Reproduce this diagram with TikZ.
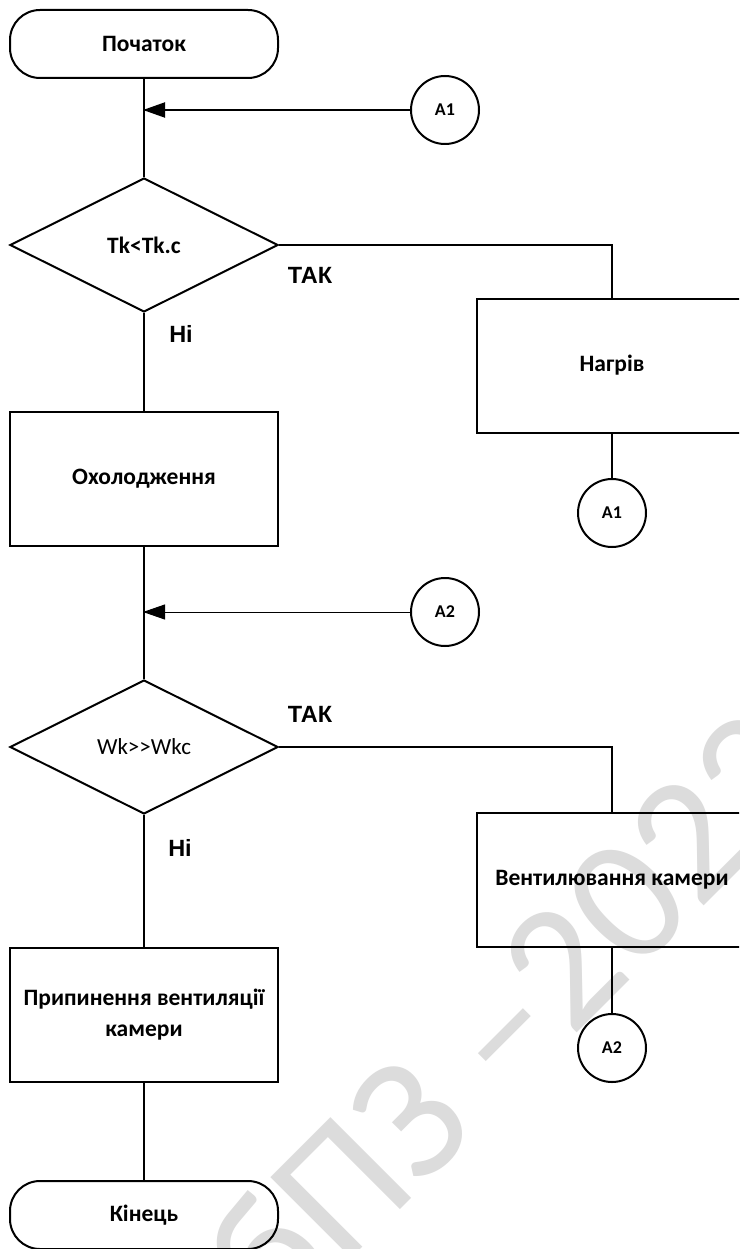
\documentclass[tikz,border=0pt]{standalone}
\usepackage{fontspec}
\setmainfont{Carlito}
\newfontfamily\labfont{Liberation Sans}
\usetikzlibrary{shapes.geometric,arrows.meta}
\definecolor{wm}{HTML}{DCDCDC}
\begin{document}
\begin{tikzpicture}[x=1pt,y=-1pt,
  every node/.style={font=\fontsize{23.5}{31}\selectfont\bfseries},
  base/.style={draw=black,line width=2pt,inner sep=0pt},
  term/.style={base,rectangle,rounded corners=30pt,minimum width=268pt,minimum height=68pt},
  proc/.style={base,rectangle,minimum width=268pt,minimum height=134pt,align=center},
  dec/.style={base,diamond,minimum width=268pt,minimum height=134pt},
  conn/.style={base,circle,minimum size=68pt,font=\fontsize{18}{20}\selectfont\bfseries},
  line/.style={line width=2pt},
  thin/.style={line width=1pt},
  tip/.style={-{Triangle[length=22pt,width=15pt]},shorten >=-1pt},
  yes/.style={font=\labfont\fontsize{23.5}{25}\selectfont\bfseries},
  water/.style={text=wm,font=\fontsize{178}{178}\selectfont\mdseries,rotate=45,anchor=base west,inner sep=0pt}]
\clip (0,0) rectangle (739,1249);
\fill[white] (0,0) rectangle (739,1249);
\node[water] (wmark) at (275,1335) {бПЗ –2023};

\node[term] (start) at (144,44) {Початок};
\node[dec] (d1) at (144,245) {Tk<Tk.c};
\node[proc] (cool) at (144,478.5) {Охолодження};
\node[proc,minimum width=270pt] (heat) at (612,365.5) {Нагрів};
\node[conn] (a1in) at (445,110) {A1};
\node[conn] (a1out) at (612,513) {A1};
\node[conn] (a2in) at (445,612) {A2};
\node[dec,font=\fontsize{23}{25}\selectfont] (d2) at (144,747) {Wk>\kern0pt>Wkc};
\node[proc,minimum width=270pt] (vent) at (612,880) {Вентилювання камери};
\node[proc] (stop) at (144,1014.5) {Припинення вентиляції\\камери};
\node[term] (end) at (144,1215) {Кінець};
\node[conn] (a2out) at (612,1048) {A2};

\coordinate (j1) at (start.south |- a1in.west);
\coordinate (j2) at (start.south |- a2in.west);

\draw[line] (start) -- (d1);
\draw[line,tip] (a1in) -- (j1);
\draw[line] (d1.east) -| (heat.north);
\draw[line] (d1) -- (cool);
\draw[line] (heat) -- (a1out);
\draw[line] (cool) -- (d2);
\draw[thin,tip] (a2in) -- (j2);
\draw[line] (d2.east) -| (vent.north);
\draw[line] (d2) -- (stop);
\draw[line] (vent) -- (a2out);
\draw[line] (stop) -- (end);

\node[yes] (t1) at (310,275) {ТАК};
\node[yes] (n1) at (181,334) {Ні};
\node[yes] (t2) at (310,714) {ТАК};
\node[yes] (n2) at (180,848) {Ні};
\end{tikzpicture}
\end{document}
